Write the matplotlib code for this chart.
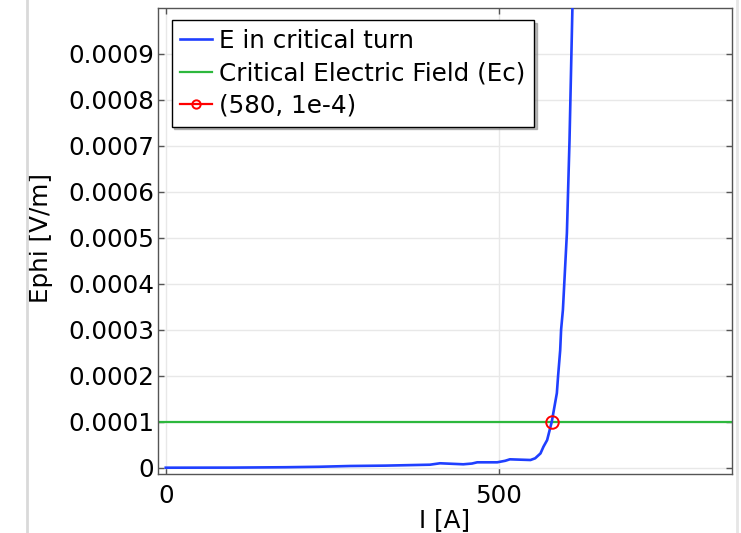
import matplotlib
matplotlib.use("Agg")
import matplotlib.pyplot as plt
from matplotlib.lines import Line2D
import numpy as np

# current I [A] and E in critical turn [V/m]
current = [0, 100, 180, 230, 277, 330, 380, 397, 412, 447, 460, 468, 498, 510, 517,
           548, 555, 563, 567.5, 573, 580, 587.6, 589.5, 592.6, 594, 596.7, 602.7, 606.6, 611, 616]
e_turn = np.array([0, 0.02, 0.1, 0.2, 0.37, 0.45, 0.6, 0.65, 0.96, 0.74, 0.9, 1.17, 1.17, 1.5, 1.82,
                   1.67, 2.04, 3.1, 4.56, 6.0, 10.0, 16.2, 20, 25.5, 30, 34.3, 51, 71, 100, 135]) * 1e-5

ec_value = 1e-4
crit_point = (580, 1e-4)

x_ticks = [0, 500]
y_ticks = [i * 1e-4 for i in range(10)]
y_tick_labels = ["0"] + ["%.4f" % v for v in y_ticks[1:]]

fs = 17.7
blue = "#1f3fff"
green = "#2db83d"

fig = plt.figure(figsize=(7.41, 5.33), dpi=100)
ax = fig.add_axes([157.5 / 741, (533 - 474) / 533, 574 / 741, 466.5 / 533])

ax.plot(current, e_turn, color=blue, lw=1.9, label="E in critical turn", zorder=3)
ax.axhline(ec_value, color=green, lw=1.6, label="Critical Electric Field (Ec)", zorder=2)
ax.plot([crit_point[0]], [crit_point[1]], color="red", ls="-", marker="o", mfc="none",
        mec="red", ms=9, mew=1.4, lw=1.6, label="(580, 1e-4)", zorder=4)

ax.set_xlim(-12.4, 850)
ax.set_ylim(-1.37e-5, 1.0e-3)
ax.set_xticks(x_ticks)
ax.set_yticks(y_ticks)
ax.set_yticklabels(y_tick_labels)
ax.grid(True, color="#e8e8e8", lw=1.0, zorder=0)
ax.set_axisbelow(True)

ax.tick_params(axis="both", direction="in", length=4.3, width=1, color="#555555",
               labelsize=fs, top=True, right=True)
ax.tick_params(axis="x", pad=7.3)
ax.tick_params(axis="y", pad=2.5)
for s in ax.spines.values():
    s.set_color("#555555")
    s.set_linewidth(1.0)

ax.set_xlabel("I [A]", fontsize=fs)
ax.set_ylabel("Ephi [V/m]", fontsize=fs)
ax.xaxis.set_label_coords(0.5, -0.0735)
ax.yaxis.set_label_coords(-0.182, 0.505)

leg = ax.legend(loc="upper left", bbox_to_anchor=(0.0247, 0.973), borderaxespad=0,
                fontsize=fs, fancybox=False, framealpha=1, edgecolor="black",
                shadow={"color": "0.55", "alpha": 0.6},
                handlelength=1.3, handletextpad=0.28, borderpad=0.35,
                labelspacing=0.35)
leg.get_frame().set_linewidth(1.0)
leg.legend_handles[2].set_markersize(6)

# window edges from the screenshot
fig.add_artist(Line2D([27 / 741] * 2, [0, 1], color="0.85", lw=2))
fig.add_artist(Line2D([737 / 741] * 2, [0, 1], color="0.9", lw=2))

fig.savefig("out.png", dpi=100)
